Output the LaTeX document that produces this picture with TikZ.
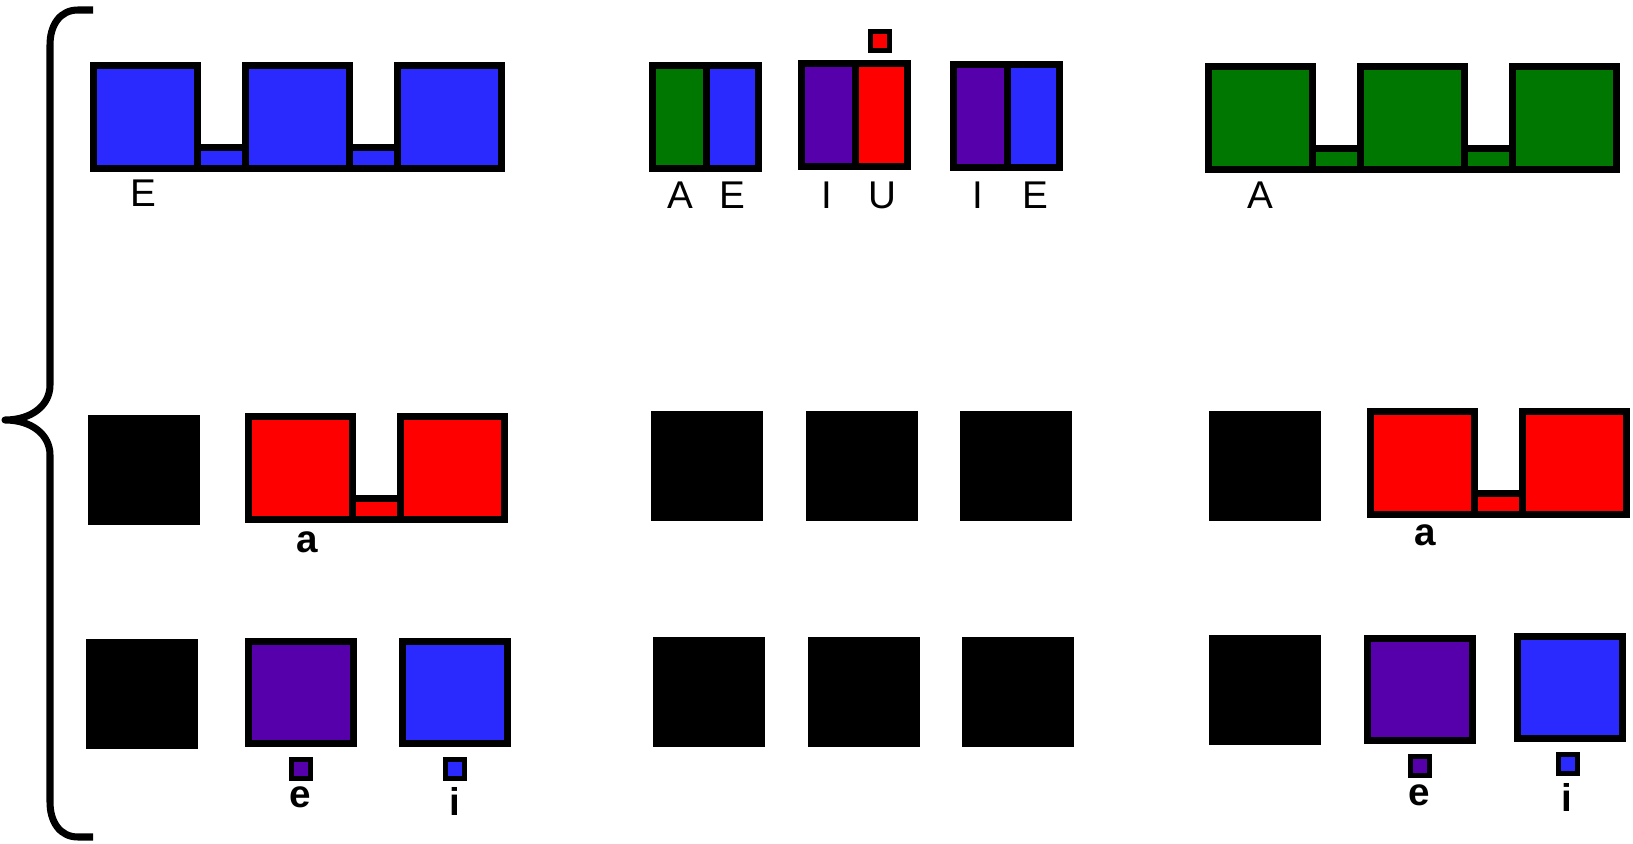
\documentclass[tikz,border=0pt]{standalone}
\usepackage{fontspec}
\setmainfont{Liberation Sans}
\usepackage{xcolor}
\usepackage{tikz}
\definecolor{vblue}{RGB}{42,42,255}
\definecolor{vgreen}{RGB}{0,119,0}
\definecolor{vred}{RGB}{255,0,0}
\definecolor{vpurple}{RGB}{85,0,170}

\begin{document}
\begin{tikzpicture}[
    x=0.02cm, y=-0.02cm,
    % --- styles ------------------------------------------------------
    slot/.style={draw=black, line width=4pt},
    tiny/.style={draw=black, line width=2.4pt},
    hole/.style={fill=black},
    caps/.style={font=\fontsize{22}{26}\selectfont, inner sep=0pt},
    small/.style={font=\fontsize{22}{26}\selectfont\bfseries, inner sep=0pt},
    brace/.style={draw=black, line width=4pt, line join=round}
]
\useasboundingbox (0,0) rectangle (1633,844);

% --- left brace -----------------------------------------------------
\path[brace] (93,10) -- (78,10) .. controls (60,10) and (50,25) .. (50,45)
    -- (50,385) .. controls (50,405) and (32,420) .. (5,420)
    .. controls (32,420) and (50,435) .. (50,455)
    -- (50,802) .. controls (50,822) and (60,837) .. (78,837) -- (93,837);

% --- chains of boxes joined by low bars -----------------------------
\foreach \x/\y/\n/\col in {90/62/3/vblue, 1205/63/3/vgreen,
                           245/413/2/vred, 1367/408/2/vred} {
    \foreach \k in {1,...,\n}
        \draw[slot, fill=\col] ({\x+(\k-1)*152+3.5},{\y+3.5})
            rectangle ({\x+(\k-1)*152+107.5},{\y+106.5});
    \foreach \k in {2,...,\n}
        \draw[slot, fill=\col] ({\x+(\k-2)*152+107.5},{\y+85.5})
            rectangle ({\x+(\k-1)*152+3.5},{\y+106.5});
}

% --- split boxes (two halves) ---------------------------------------
\foreach \x/\y/\cl/\cr in {649/62/vgreen/vblue, 798/60/vpurple/vred,
                           950/61/vpurple/vblue} {
    \draw[slot, fill=\cl] ({\x+3.5},{\y+3.5}) rectangle ({\x+57.5},{\y+106.5});
    \draw[slot, fill=\cr] ({\x+57.5},{\y+3.5}) rectangle ({\x+109.5},{\y+106.5});
}

% --- single coloured boxes ------------------------------------------
\foreach \x/\y/\col in {245/638/vpurple, 399/638/vblue,
                        1364/635/vpurple, 1514/633/vblue}
    \draw[slot, fill=\col] ({\x+3.5},{\y+3.5}) rectangle ({\x+108.5},{\y+105.5});

% --- little marker squares ------------------------------------------
\foreach \x/\y/\col in {868/29/vred, 289/757/vpurple, 443/757/vblue,
                        1408/754/vpurple, 1556/752/vblue}
    \draw[tiny, fill=\col] ({\x+2.5},{\y+2.5}) rectangle ({\x+21.5},{\y+21.5});

% --- black boxes ----------------------------------------------------
\foreach \x/\y in {88/415, 651/411, 806/411, 960/411, 1209/411,
                   86/639, 653/637, 808/637, 962/637, 1209/635}
    \fill[hole] (\x,\y) rectangle ({\x+112},{\y+110});

% --- labels ---------------------------------------------------------
\node[caps] (lblE) at (143,193) {E};
\node[caps] (lblAE) at (680,195) {A};
\node[caps] (lblAEe) at (732,195) {E};
\node[caps] (lblIU) at (827,195) {I};
\node[caps] (lblIUu) at (882,195) {U};
\node[caps] (lblIE) at (978,195) {I};
\node[caps] (lblIEe) at (1035,195) {E};
\node[caps] (lblA) at (1260,195) {A};

\node[small] (lbla) at (307,542) {a};
\node[small] (lblar) at (1425,535) {a};
\node[small] (lble) at (300,797) {e};
\node[small] (lbli) at (455,801) {i};
\node[small] (lbler) at (1419,795) {e};
\node[small] (lblir) at (1567,797) {i};

\end{tikzpicture}
\end{document}
